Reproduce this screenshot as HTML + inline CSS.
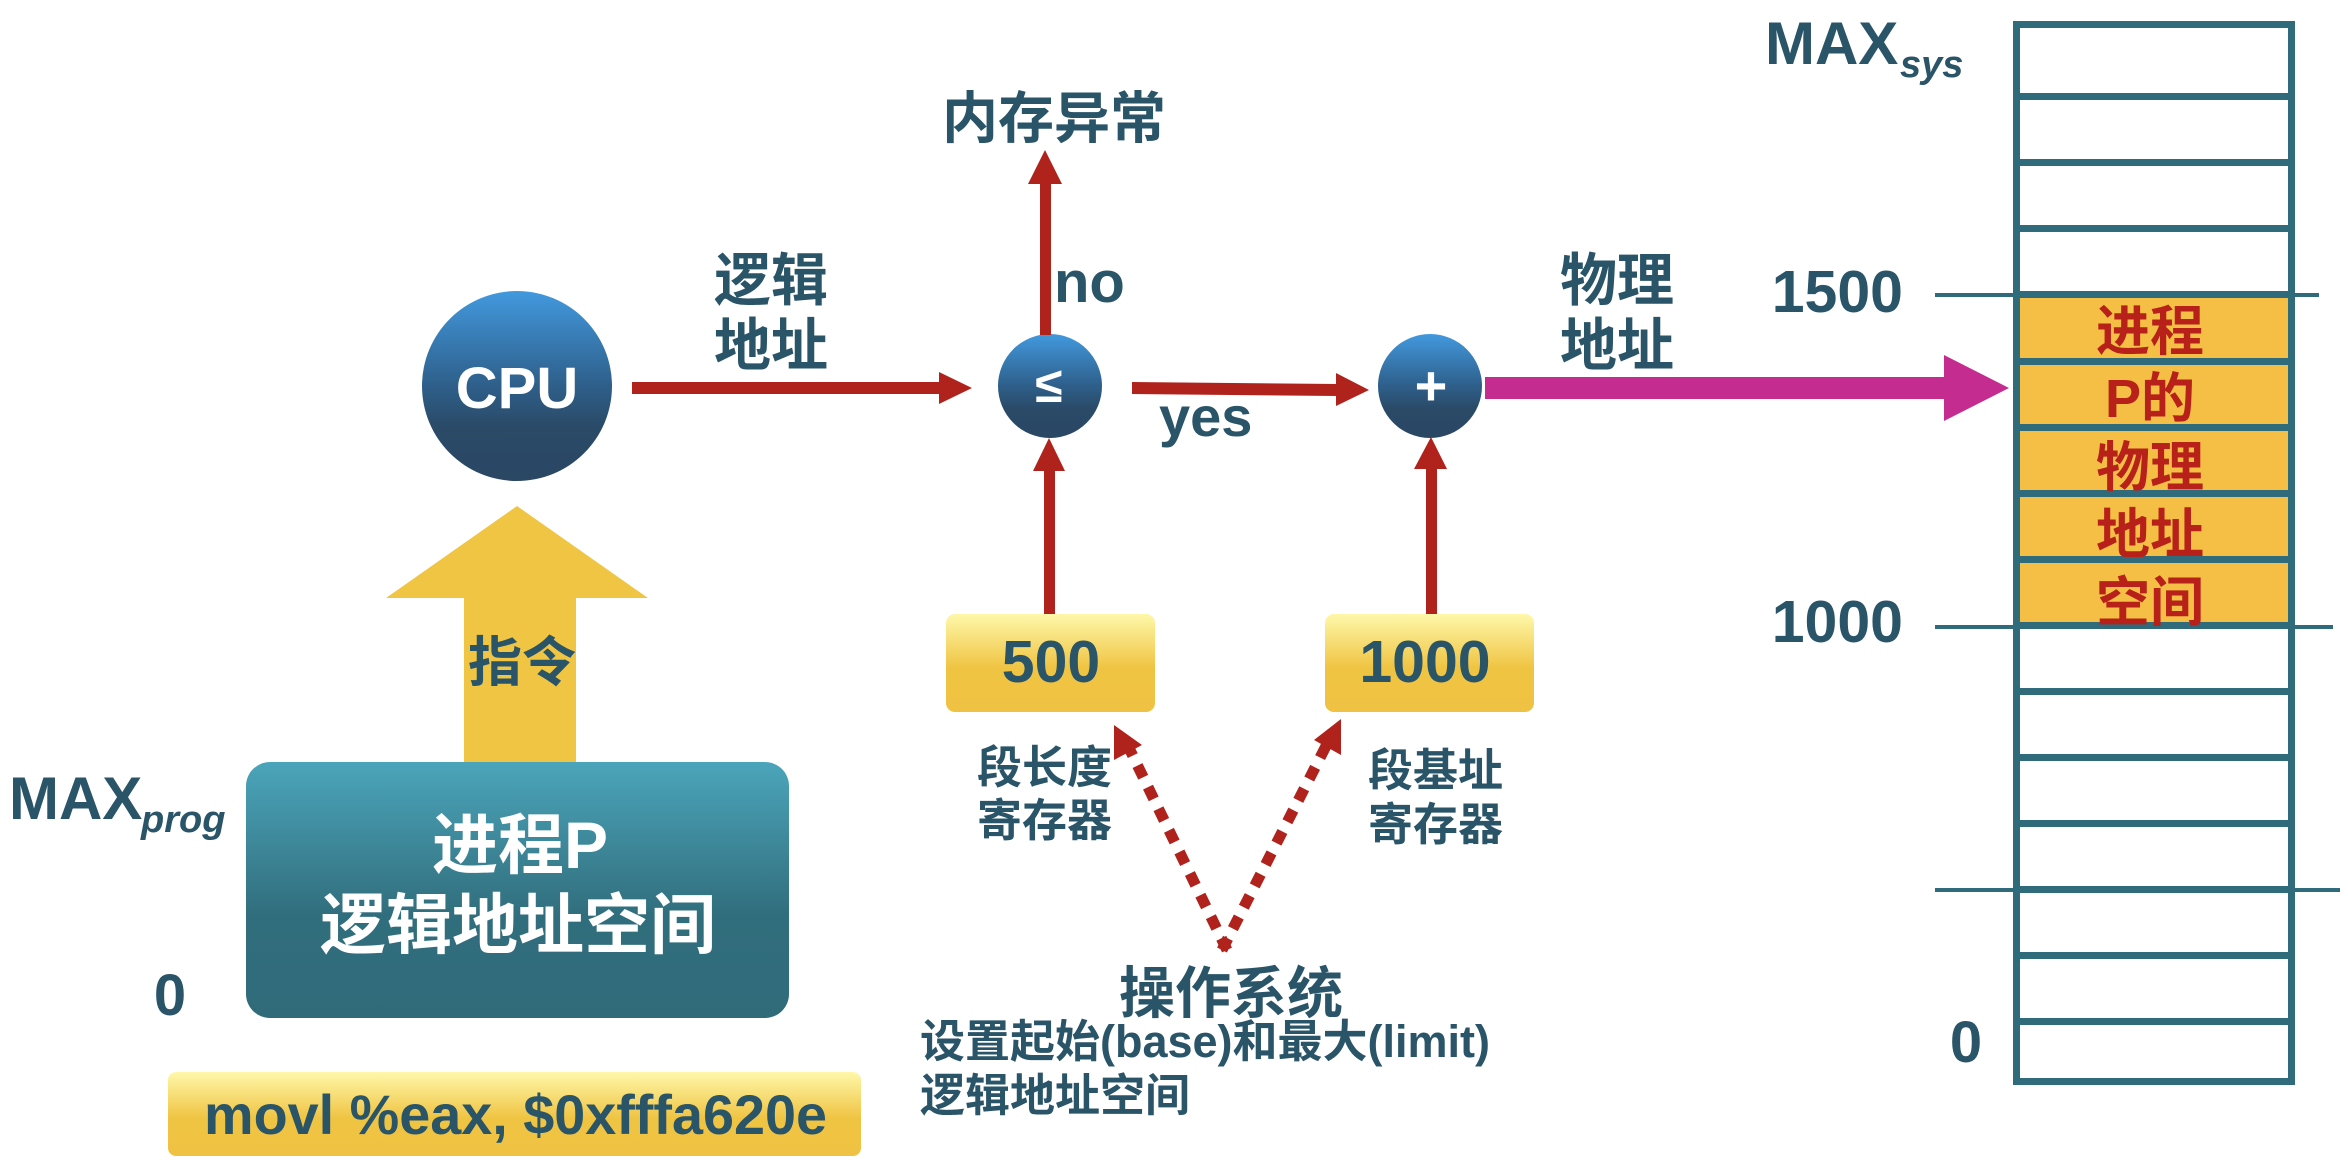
<!DOCTYPE html>
<html>
<head>
<meta charset="utf-8">
<style>
  html,body{margin:0;padding:0;background:#fff;}
  svg{display:block;}
  .t{font-family:"Liberation Sans","Noto Sans CJK SC",sans-serif;font-weight:700;fill:#2A5468;}
  .c{font-family:"Liberation Sans","Noto Sans CJK SC",sans-serif;font-weight:700;}
</style>
</head>
<body>
<svg width="2348" height="1170" viewBox="0 0 2348 1170" xmlns="http://www.w3.org/2000/svg">
  <defs>
    <linearGradient id="gc" x1="0" y1="0" x2="0" y2="1">
      <stop offset="0" stop-color="#4299DE"/>
      <stop offset="0.5" stop-color="#2E5F8A"/>
      <stop offset="0.72" stop-color="#2A4A67"/>
      <stop offset="1" stop-color="#2A4764"/>
    </linearGradient>
    <linearGradient id="gy" x1="0" y1="0" x2="0" y2="1">
      <stop offset="0" stop-color="#FEF8AA"/>
      <stop offset="0.55" stop-color="#F0C443"/>
      <stop offset="1" stop-color="#F0C243"/>
    </linearGradient>
    <linearGradient id="gp" x1="0" y1="0" x2="0" y2="1">
      <stop offset="0" stop-color="#4BA5BA"/>
      <stop offset="0.6" stop-color="#316E7D"/>
      <stop offset="1" stop-color="#306B7A"/>
    </linearGradient>
  </defs>

  <!-- ===== Left: instruction arrow, process box ===== -->
  <polygon points="517,506 386,598 464,598 464,765 576,765 576,598 648,598" fill="#F0C543"/>
  <text class="t" x="522" y="681" font-size="54" text-anchor="middle">指令</text>

  <rect x="246" y="762" width="543" height="256" rx="24" ry="24" fill="url(#gp)"/>
  <text class="c" x="520" y="868" font-size="66" fill="#fff" text-anchor="middle">进程P</text>
  <text class="c" x="518" y="948" font-size="66" fill="#fff" text-anchor="middle">逻辑地址空间</text>

  <text class="t" x="9" y="819" font-size="60">MAX</text>
  <text class="t" x="141" y="832" font-size="38" font-style="italic">prog</text>
  <text class="t" x="170" y="1015" font-size="58" text-anchor="middle">0</text>

  <rect x="168" y="1072" width="693" height="84" rx="8" ry="8" fill="url(#gy)"/>
  <text class="t" x="204" y="1134" font-size="56" textLength="623" lengthAdjust="spacingAndGlyphs">movl %eax, $0xfffa620e</text>

  <!-- ===== CPU ===== -->
  <circle cx="517" cy="386" r="95" fill="url(#gc)"/>
  <text class="c" x="517" y="408" font-size="58" fill="#fff" text-anchor="middle">CPU</text>

  <!-- CPU -> <= arrow -->
  <rect x="632" y="382" width="309" height="12" fill="#B0221C"/>
  <polygon points="939,372 972,388 939,404" fill="#B0221C"/>
  <text class="t" x="714" y="300" font-size="57">逻辑</text>
  <text class="t" x="714" y="365" font-size="57">地址</text>

  <!-- <= circle -->
  <circle cx="1050" cy="386" r="52" fill="url(#gc)"/>
  <text class="c" x="1049" y="402" font-size="50" fill="#fff" text-anchor="middle">≤</text>

  <!-- no arrow -->
  <rect x="1040" y="182" width="11" height="153" fill="#B0221C"/>
  <polygon points="1028,184 1045,150 1062,184" fill="#B0221C"/>
  <text class="t" x="1054" y="302" font-size="58">no</text>
  <text class="t" x="1054" y="138" font-size="56" text-anchor="middle">内存异常</text>

  <!-- yes arrow -->
  <polygon points="1132,382 1338,384 1338,396 1132,394" fill="#B0221C"/>
  <polygon points="1336,373 1369,390 1336,406" fill="#B0221C"/>
  <text class="t" x="1159" y="436" font-size="56">yes</text>

  <!-- + circle -->
  <circle cx="1430" cy="386" r="52" fill="url(#gc)"/>
  <text class="c" x="1431" y="405" font-size="56" fill="#fff" text-anchor="middle">+</text>

  <!-- magenta arrow -->
  <rect x="1485" y="377" width="461" height="22" fill="#C42C8F"/>
  <polygon points="1944,355 2009,388 1944,421" fill="#C42C8F"/>
  <text class="t" x="1560" y="300" font-size="57">物理</text>
  <text class="t" x="1560" y="365" font-size="57">地址</text>

  <!-- register arrows -->
  <rect x="1044" y="469" width="11" height="147" fill="#B0221C"/>
  <polygon points="1033,471 1049,438 1065,471" fill="#B0221C"/>
  <rect x="1426" y="467" width="11" height="149" fill="#B0221C"/>
  <polygon points="1414,469 1431,437 1447,469" fill="#B0221C"/>

  <!-- registers -->
  <rect x="946" y="614" width="209" height="98" rx="9" ry="9" fill="url(#gy)"/>
  <text class="t" x="1051" y="682" font-size="59" text-anchor="middle">500</text>
  <rect x="1325" y="614" width="209" height="98" rx="9" ry="9" fill="url(#gy)"/>
  <text class="t" x="1425" y="682" font-size="59" text-anchor="middle">1000</text>

  <text class="t" x="977" y="783" font-size="45">段长度</text>
  <text class="t" x="977" y="836" font-size="45">寄存器</text>
  <text class="t" x="1368" y="786" font-size="45">段基址</text>
  <text class="t" x="1368" y="840" font-size="45">寄存器</text>

  <!-- dotted arrows -->
  <line x1="1227" y1="950" x2="1130" y2="750" stroke="#B0221C" stroke-width="11" stroke-dasharray="13 11"/>
  <polygon points="1114,725 1142,745 1114,760" fill="#B0221C"/>
  <line x1="1222" y1="950" x2="1326" y2="746" stroke="#B0221C" stroke-width="11" stroke-dasharray="13 11"/>
  <polygon points="1341,719 1314,740 1341,755" fill="#B0221C"/>

  <text class="t" x="1231" y="1013" font-size="56" text-anchor="middle">操作系统</text>
  <text class="t" x="920" y="1057" font-size="45">设置起始(base)和最大(limit)</text>
  <text class="t" x="920" y="1111" font-size="45">逻辑地址空间</text>

  <!-- ===== Memory table ===== -->
  <rect x="2017" y="295" width="274" height="331" fill="#F4BF44"/>
  <g fill="#2F6B7A">
    <rect x="2013" y="21" width="282" height="7"/>
    <rect x="2013" y="1078" width="282" height="7"/>
    <rect x="2013" y="21" width="7" height="1064"/>
    <rect x="2288" y="21" width="7" height="1064"/>
    <rect x="2013" y="93" width="282" height="7"/>
    <rect x="2013" y="159" width="282" height="7"/>
    <rect x="2013" y="225" width="282" height="7"/>
    <rect x="2013" y="291" width="282" height="7"/>
    <rect x="2013" y="358" width="282" height="7"/>
    <rect x="2013" y="424" width="282" height="7"/>
    <rect x="2013" y="490" width="282" height="7"/>
    <rect x="2013" y="556" width="282" height="7"/>
    <rect x="2013" y="622" width="282" height="7"/>
    <rect x="2013" y="688" width="282" height="7"/>
    <rect x="2013" y="754" width="282" height="7"/>
    <rect x="2013" y="820" width="282" height="7"/>
    <rect x="2013" y="886" width="282" height="7"/>
    <rect x="2013" y="952" width="282" height="7"/>
    <rect x="2013" y="1018" width="282" height="7"/>
    <!-- long marker lines -->
    <rect x="1935" y="293" width="384" height="4"/>
    <rect x="1935" y="625" width="398" height="4"/>
    <rect x="1935" y="888" width="405" height="4"/>
  </g>

  <g class="c" fill="#B8201A" font-size="54" text-anchor="middle">
    <text x="2150" y="350">进程</text>
    <text x="2150" y="417">P的</text>
    <text x="2150" y="486">物理</text>
    <text x="2150" y="553">地址</text>
    <text x="2150" y="621">空间</text>
  </g>

  <text class="t" x="1765" y="64" font-size="60">MAX</text>
  <text class="t" x="1900" y="77" font-size="38" font-style="italic">sys</text>
  <text class="t" x="1903" y="312" font-size="59" text-anchor="end">1500</text>
  <text class="t" x="1903" y="642" font-size="59" text-anchor="end">1000</text>
  <text class="t" x="1966" y="1062" font-size="58" text-anchor="middle">0</text>
</svg>
</body>
</html>
